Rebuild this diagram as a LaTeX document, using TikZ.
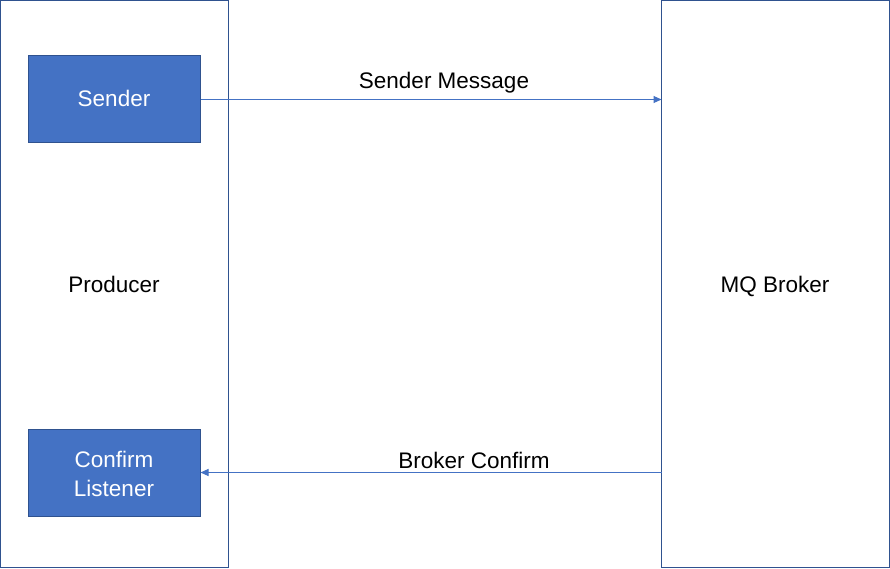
\documentclass[tikz,border=0pt]{standalone}
\usepackage{fontspec}
\setmainfont{Liberation Sans}
\usetikzlibrary{arrows.meta}
\definecolor{boxfill}{HTML}{4472C4}
\definecolor{boxedge}{HTML}{2F528F}
\begin{document}
\begin{tikzpicture}[x=1pt,y=-1pt,
  panel/.style={draw=boxedge,line width=1pt,fill=white},
  comp/.style={draw=boxedge,line width=1pt,fill=boxfill},
  lbl/.style={font=\fontsize{22.5}{29}\selectfont,text=black,anchor=base,inner sep=0pt},
  wlbl/.style={font=\fontsize{22.5}{29}\selectfont,text=white,anchor=base,inner sep=0pt},
  msg/.style={draw=boxfill,line width=1pt,-{Triangle[length=8pt,width=7pt]}}]
\useasboundingbox (0,0) rectangle (890,568);
\fill[white] (0,0) rectangle (890,568);
\draw[panel] (0.5,0.5) rectangle (228.5,567.5);
\draw[panel] (661.5,0.5) rectangle (889.5,567.5);
\node[lbl] (prod) at (114,292) {Producer};
\node[lbl] (mq) at (775,292) {MQ Broker};
\node[comp,minimum width=172pt,minimum height=87pt,inner sep=0pt] (sender) at (114,98.5) {};
\node[wlbl] (senderlbl) at (114,106) {Sender};
\node[comp,minimum width=172pt,minimum height=87pt,inner sep=0pt] (confirm) at (114,472.5) {};
\node[wlbl] (conflbl) at (114,467) {Confirm};
\node[wlbl] (listlbl) at (114,496) {Listener};
\coordinate (brkTop) at (661.5,99.5);
\coordinate (brkBot) at (661.5,472.5);
\draw[msg] (sender.east |- 0,99.5) -- (brkTop);
\draw[msg] (brkBot) -- (confirm.east |- 0,472.5);
\node[lbl] (sm) at (444,88) {Sender Message};
\node[lbl] (bc) at (474,468) {Broker Confirm};
\end{tikzpicture}
\end{document}
